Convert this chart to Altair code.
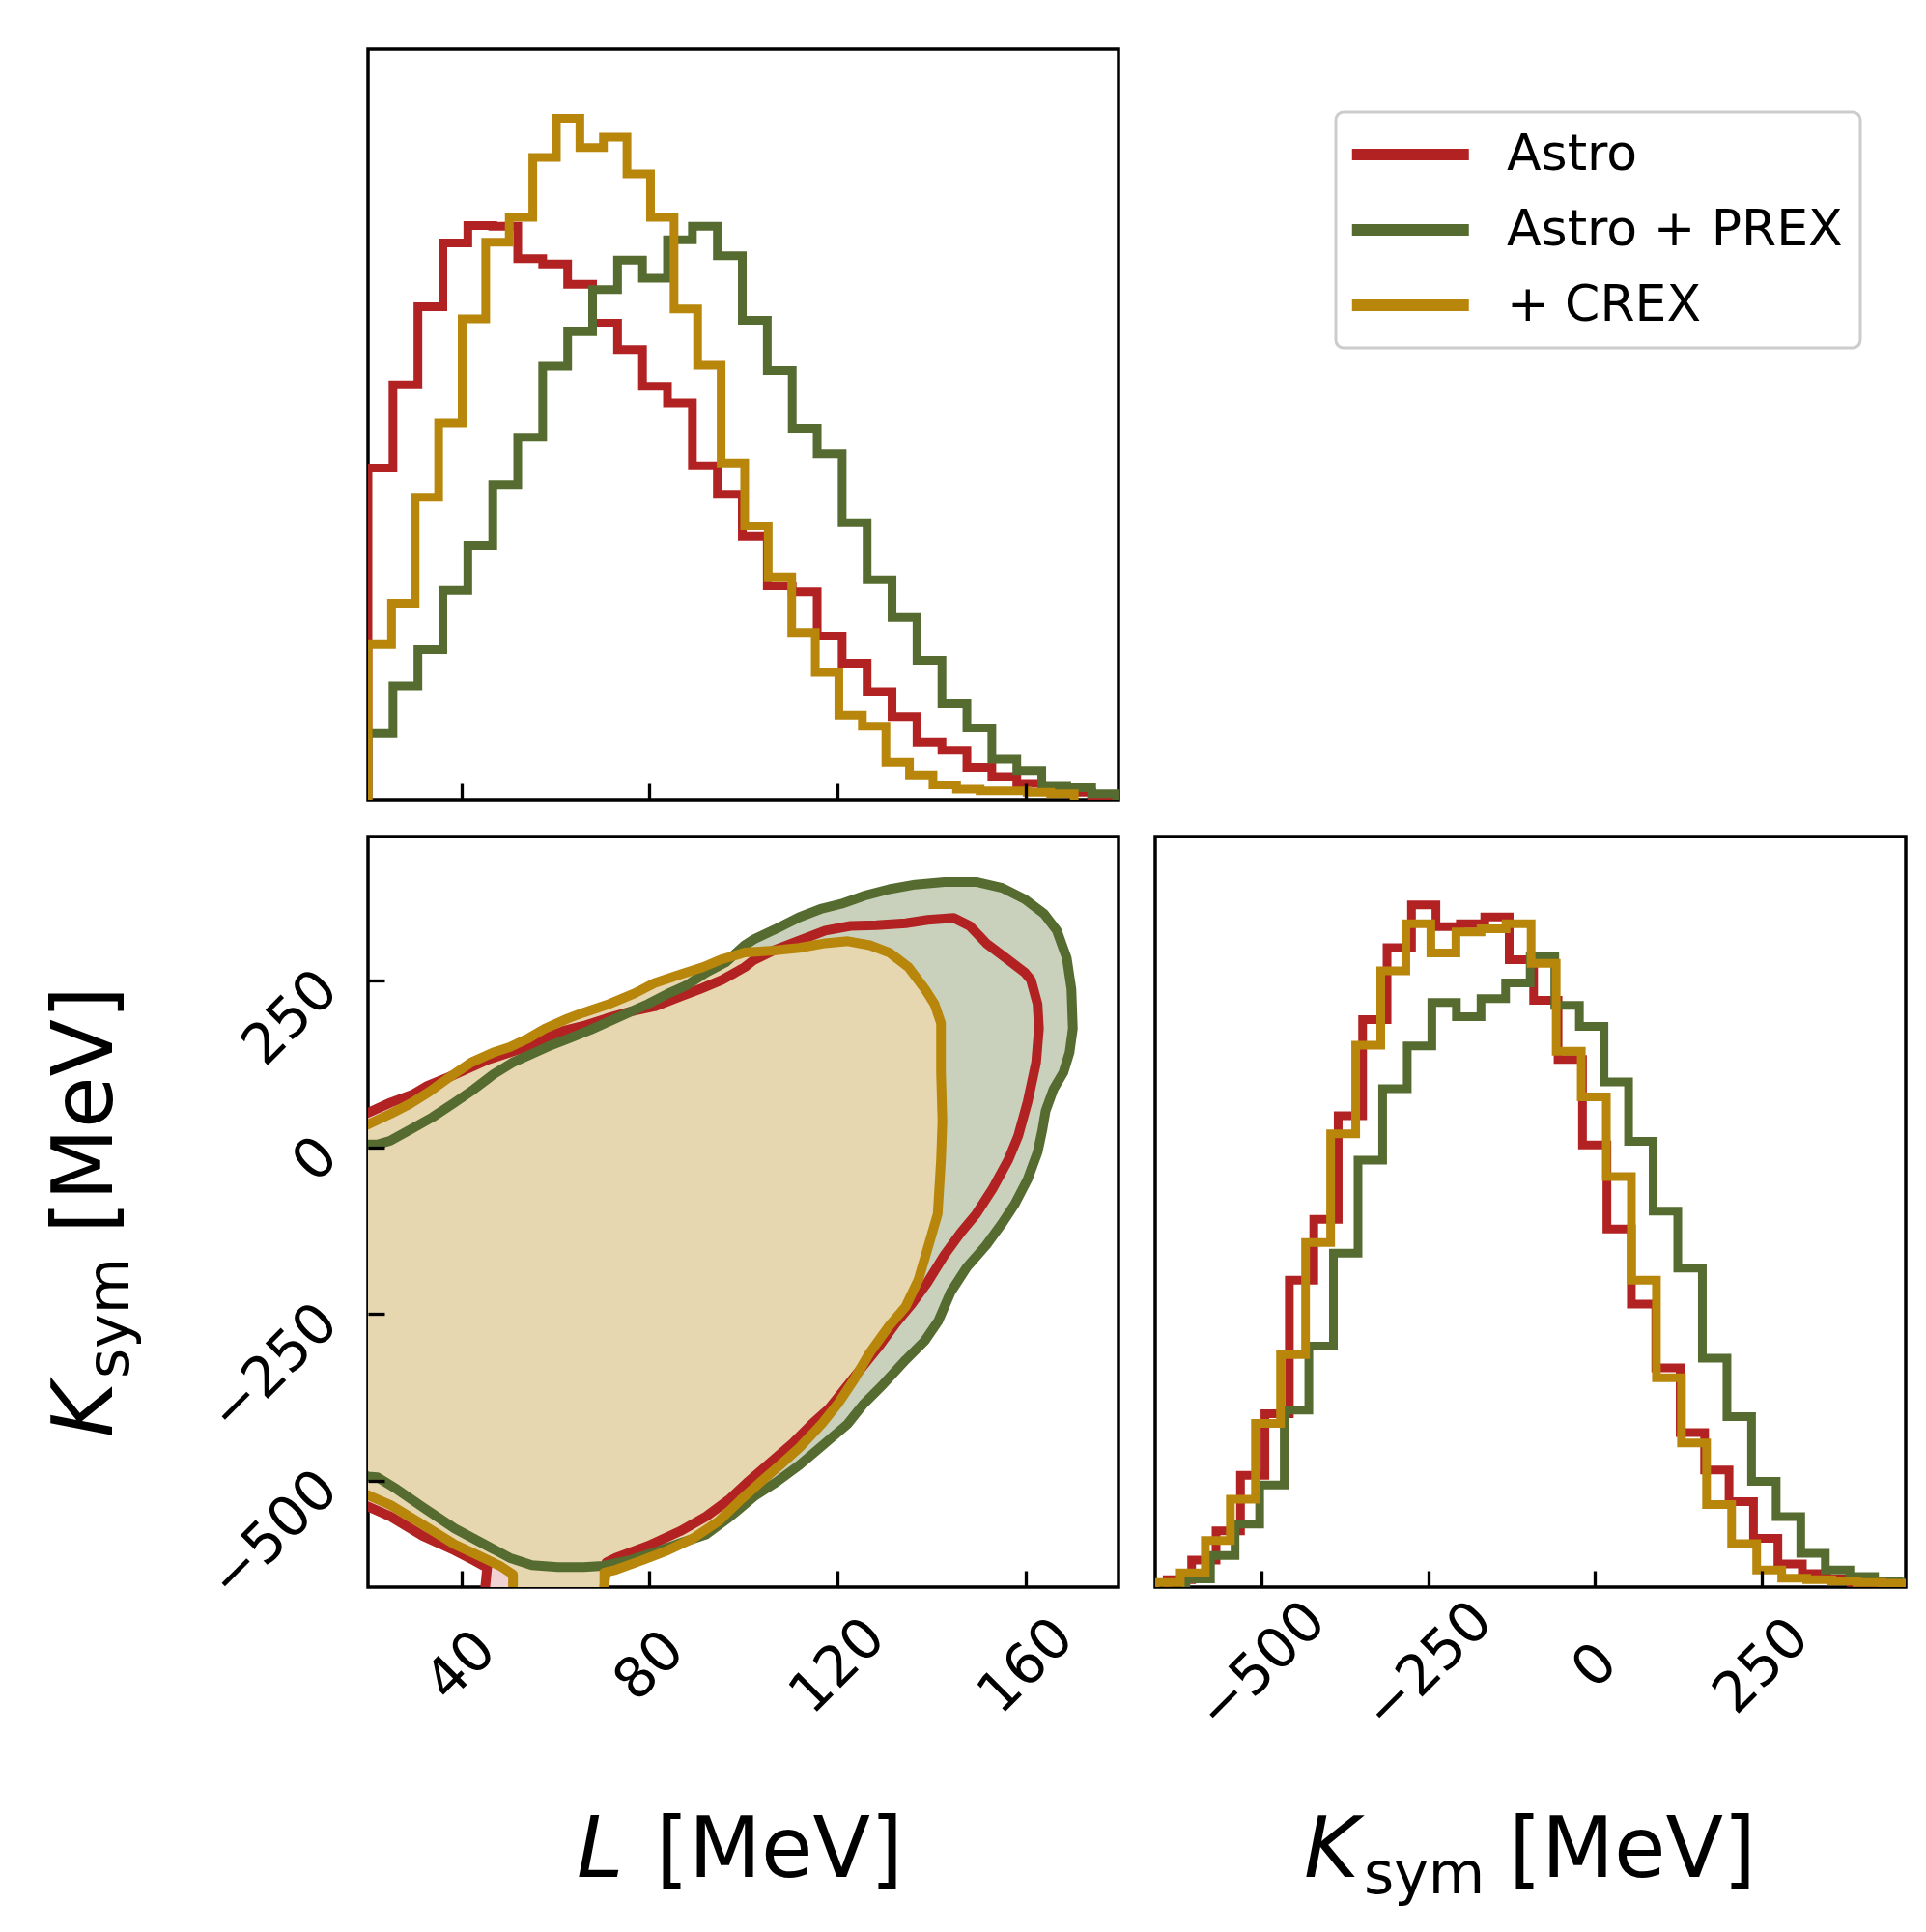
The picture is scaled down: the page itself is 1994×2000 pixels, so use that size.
import altair as alt
import pandas as pd

# ---------------- data ----------------
SERIES = ["Astro", "Astro + PREX", "+ CREX"]
LINE_COLORS = ["#b22222", "#556b2f", "#b8860b"]
FILL_COLORS = ["#f2d3d3", "#c9d1bc", "#e6d7b0"]

L_RANGE = [20.2, 179.6]
K_RANGE = [-660.0, 466.0]
L_TICKS = [40, 80, 120, 160]
K_TICKS = [-500, -250, 0, 250]

# marginal histogram of L (heights relative to panel height)
L_BIN_START = [20.2, 20.2, 20.2]
L_BIN_WIDTH = [5.3, 5.3, 5.0]
L_HIST_ASTRO = [0.442, 0.553, 0.657, 0.742, 0.765, 0.764, 0.721, 0.714, 0.687, 0.635,
                0.600, 0.551, 0.529, 0.445, 0.407, 0.351, 0.285, 0.277, 0.218, 0.182,
                0.144, 0.111, 0.077, 0.066, 0.043, 0.031, 0.022, 0.016, 0.010, 0.004]
L_HIST_PREX = [0.0885, 0.152, 0.200, 0.279, 0.339, 0.420, 0.483, 0.578, 0.624, 0.680,
               0.719, 0.695, 0.746, 0.764, 0.725, 0.639, 0.572, 0.495, 0.461, 0.369,
               0.293, 0.243, 0.186, 0.128, 0.096, 0.054, 0.039, 0.018, 0.016, 0.008]
L_HIST_CREX = [0.207, 0.262, 0.403, 0.502, 0.641, 0.743, 0.776, 0.856, 0.908, 0.869,
               0.883, 0.834, 0.776, 0.654, 0.579, 0.449, 0.365, 0.297, 0.223, 0.170,
               0.113, 0.098, 0.050, 0.033, 0.020, 0.014, 0.012, 0.012, 0.010, 0.008]

# marginal histogram of K_sym
K_BIN_START = [-642.0, -614.0, -660.0]
K_BIN_WIDTH = [36.65, 36.9, 37.6]
K_HIST_ASTRO = [0.010, 0.036, 0.075, 0.149, 0.231, 0.409, 0.490, 0.628, 0.756, 0.852,
                0.909, 0.880, 0.884, 0.893, 0.836, 0.782, 0.703, 0.589, 0.477, 0.377,
                0.292, 0.206, 0.156, 0.114, 0.065, 0.031, 0.018, 0.011, 0.006, 0.003]
K_HIST_PREX = [0.011, 0.042, 0.084, 0.136, 0.236, 0.321, 0.445, 0.569, 0.664, 0.721,
               0.779, 0.760, 0.784, 0.805, 0.840, 0.775, 0.747, 0.673, 0.594, 0.501,
               0.425, 0.305, 0.227, 0.141, 0.094, 0.045, 0.023, 0.014, 0.008, 0.005]
K_HIST_CREX = [0.006, 0.019, 0.062, 0.117, 0.218, 0.310, 0.459, 0.604, 0.722, 0.821,
               0.884, 0.845, 0.873, 0.877, 0.884, 0.831, 0.714, 0.653, 0.547, 0.409,
               0.279, 0.192, 0.110, 0.058, 0.023, 0.012, 0.010, 0.008, 0.006, 0.005]

# credible-region contours in the (L, K_sym) plane, as (L, K_sym) pairs
CONTOUR_ASTRO = [
    (15, 35), (20.2, 51.6), (25.0, 67), (29.7, 79), (32.8, 92), (37.3, 105), (42.1, 120),
    (45.5, 131), (50.3, 142), (53.7, 150), (57.8, 164), (61.9, 175), (66.0, 182),
    (70.8, 193), (76.2, 204), (81.0, 211), (86.5, 226), (90.6, 237), (95.4, 251),
    (100.2, 270), (102.2, 281), (106.3, 295), (111.8, 310), (117.3, 325), (122.7, 332),
    (128.2, 333), (134.4, 336), (139.1, 341), (144.6, 344), (148.0, 332), (151.5, 306),
    (155.6, 284), (159.7, 262), (161.0, 251), (162.4, 215), (162.7, 178), (162.1, 127),
    (160.3, 68), (158.3, 17), (156.2, -19), (152.8, -63), (149.4, -100), (146.0, -129),
    (142.6, -162), (139.1, -202), (135.7, -235), (132.3, -264), (128.9, -297),
    (125.5, -327), (121.4, -363), (118.0, -393), (114.5, -415), (110.4, -444),
    (105.0, -477), (100.9, -502), (96.8, -529), (92.0, -554), (86.5, -576),
    (79.7, -598), (72.8, -616), (70.8, -623), (70.4, -660), (70.2, -700), (45.0, -700),
    (45.1, -660), (45.5, -631), (42.7, -620), (38.6, -605), (31.8, -583), (25.0, -554),
    (20.2, -539), (15, -527),
]
CONTOUR_PREX = [
    (15, -5), (20.2, 4), (22.2, 4), (25.0, 10), (29.1, 26), (33.9, 45), (38.6, 67),
    (42.7, 87), (46.8, 109), (50.9, 127), (55.0, 140), (59.1, 153), (63.2, 164),
    (67.4, 176), (71.5, 189), (75.6, 202), (79.7, 215), (83.8, 230), (87.9, 243),
    (92.0, 262), (96.1, 277), (100.2, 303), (102.2, 312), (107.0, 328), (111.8, 345),
    (116.6, 358), (120.7, 365), (125.5, 377), (130.9, 387), (136.4, 394), (142.6, 398),
    (149.4, 398), (154.9, 389), (159.7, 372), (163.8, 350), (166.5, 325), (168.6, 284),
    (169.6, 237), (169.9, 178), (169.2, 142), (167.9, 112), (165.8, 87), (164.1, 54),
    (163.4, 25), (162.4, -8), (160.3, -48), (157.6, -85), (154.9, -114), (151.5, -147),
    (147.4, -180), (144.0, -217), (141.3, -261), (138.5, -290), (134.4, -319),
    (129.6, -356), (125.5, -385), (122.1, -415), (117.3, -444), (111.8, -477),
    (107.0, -502), (102.2, -524), (96.8, -556), (92.0, -581), (86.5, -594),
    (81.0, -608), (75.6, -620), (70.1, -628), (66.0, -630), (60.5, -630), (55.0, -627),
    (50.3, -616), (45.5, -598), (38.6, -572), (31.8, -540), (26.3, -513), (22.2, -495),
    (20.2, -494), (15, -480),
]
CONTOUR_CREX = [
    (15, 20), (20.2, 34), (25.0, 50), (29.1, 65), (33.2, 83), (37.3, 104), (42.1, 127),
    (46.8, 142), (50.3, 150), (54.4, 164), (57.8, 178), (62.6, 193), (66.0, 202),
    (71.5, 215), (76.9, 231), (81.0, 246), (86.5, 259), (91.3, 270), (95.4, 282),
    (100.2, 292), (106.3, 295), (111.8, 299), (117.3, 306), (122.1, 309), (126.8, 303),
    (130.9, 292), (135.0, 270), (138.5, 237), (140.5, 215), (141.9, 186), (141.9, 112),
    (142.2, 39), (141.9, -19), (141.2, -100), (139.1, -151), (137.1, -199), (134.4, -239),
    (130.9, -268), (126.8, -308), (123.4, -349), (120.0, -385), (116.6, -415),
    (111.8, -451), (107.7, -477), (103.6, -502), (99.5, -528), (94.7, -561), (89.2, -587),
    (83.8, -605), (78.3, -620), (72.8, -634), (70.4, -638), (70.4, -660), (70.4, -700),
    (51.0, -700), (51.0, -660), (51.0, -641), (48.2, -628), (44.1, -614), (38.6, -596),
    (31.8, -566), (25.0, -537), (20.2, -522), (15, -510),
]

# ---------------- tables ----------------
def step_table(series, start, width, heights):
    xs, ys = [start], [0.0]
    for k, h in enumerate(heights):
        xs += [start + k * width, start + (k + 1) * width]
        ys += [h, h]
    xs.append(start + len(heights) * width)
    ys.append(0.0)
    return pd.DataFrame({"series": series, "x": xs, "y": ys, "i": list(range(len(xs)))})


l_hist = pd.concat([
    step_table(s, a, w, h) for s, a, w, h in
    zip(SERIES, L_BIN_START, L_BIN_WIDTH, [L_HIST_ASTRO, L_HIST_PREX, L_HIST_CREX])
])
k_hist = pd.concat([
    step_table(s, a, w, h) for s, a, w, h in
    zip(SERIES, K_BIN_START, K_BIN_WIDTH, [K_HIST_ASTRO, K_HIST_PREX, K_HIST_CREX])
])
contours = pd.concat([
    pd.DataFrame({"series": s, "L": [p[0] for p in pts], "K": [p[1] for p in pts],
                  "i": list(range(len(pts)))})
    for s, pts in zip(SERIES, [CONTOUR_ASTRO, CONTOUR_PREX, CONTOUR_CREX])
])
one = pd.DataFrame({"v": [0]})

# ---------------- styling ----------------
FONT = "DejaVu Sans"
W = 777
H = 777
TICK = 17

color_scale = alt.Scale(domain=SERIES, range=LINE_COLORS)
# a long horizontal stroke as legend swatch (path units scaled by sqrt(size)/2)
LEGEND = alt.Legend(
    orient="none", legendX=1002, legendY=65, title=None,
    symbolType="M-1.8,0H6.2", symbolSize=915, symbolStrokeWidth=12,
    labelFontSize=52, labelFont=FONT, labelColor="black", labelOffset=107,
    labelLimit=0, labelExpr="datum.label + '\u00a0'",
    padding=18, rowPadding=26, cornerRadius=8,
    strokeColor="#cccccc", fillColor="white",
)


def tick_axis(values, labels, orient_y=False):
    kw = dict(values=values, title=None, domain=False, grid=False,
              ticks=True, tickSize=TICK, tickWidth=3.3, tickColor="black",
              offset=-TICK, zindex=1)
    if not labels:
        kw["labels"] = False
        return alt.Axis(**kw)
    kw.update(format="d", labelAngle=315, labelFont=FONT, labelFontSize=58,
              labelColor="black", labelOverlap=False, labelLimit=0, labelFlush=False,
              labelBaseline="middle")
    if orient_y:
        kw.update(labelAlign="right", labelPadding=41)
    else:
        kw.update(labelAlign="center", labelPadding=82)
    return alt.Axis(**kw)


def hist_panel(df, xrange, ticks, labels):
    layers = []
    for s in SERIES:
        layers.append(
            alt.Chart(df).transform_filter(alt.datum.series == s)
            .mark_line(strokeWidth=9, clip=True, strokeJoin="miter", strokeCap="butt")
            .encode(
                x=alt.X("x:Q", scale=alt.Scale(domain=xrange, nice=False, zero=False),
                        axis=tick_axis(ticks, labels)),
                y=alt.Y("y:Q", scale=alt.Scale(domain=[0, 1], nice=False, zero=False),
                        axis=None),
                color=alt.Color("series:N", scale=color_scale, legend=LEGEND),
                order=alt.Order("i:Q"),
            )
        )
    return layers


def text_piece(text, x, y, size, italic=False, angle=0):
    kw = dict(text=text, font=FONT, fontSize=size, align="left", baseline="alphabetic",
              color="black")
    if italic:
        kw["fontStyle"] = "italic"
    if angle:
        kw["angle"] = angle
    return alt.Chart(one).mark_text(**kw).encode(x=alt.value(x), y=alt.value(y))


# top: L histogram
top = alt.layer(*hist_panel(l_hist, L_RANGE, L_TICKS, False)).properties(width=W, height=H)

# bottom-left: 2D contours
lx = alt.X("L:Q", scale=alt.Scale(domain=L_RANGE, nice=False, zero=False),
           axis=tick_axis(L_TICKS, True))
ky = alt.Y("K:Q", scale=alt.Scale(domain=K_RANGE, nice=False, zero=False),
           axis=tick_axis(K_TICKS, True, orient_y=True))
fills = [
    alt.Chart(contours).transform_filter(alt.datum.series == s)
    .mark_line(fill=fc, strokeWidth=0, strokeOpacity=0, clip=True)
    .encode(x=lx, y=ky, order=alt.Order("i:Q"))
    for s, fc in zip(SERIES, FILL_COLORS)
]
strokes = [
    alt.Chart(contours).transform_filter(alt.datum.series == s)
    .mark_line(strokeWidth=10, clip=True, strokeJoin="round")
    .encode(x=lx, y=ky, order=alt.Order("i:Q"),
            color=alt.Color("series:N", scale=color_scale, legend=LEGEND))
    for s in SERIES
]
titles_2d = [
    text_piece("L", 216, H + 300, 87, italic=True),
    text_piece("[MeV]", 298, H + 300, 87),
    text_piece("K", -265, 622, 87, italic=True, angle=270),
    text_piece("sym", -248, 561, 60, angle=270),
    text_piece("[MeV]", -265, 411, 87, angle=270),
]
mid = alt.layer(*fills, *strokes, *titles_2d).properties(width=W, height=H)

# bottom-right: K_sym histogram
titles_k = [
    text_piece("K", 154, H + 300, 87, italic=True),
    text_piece("sym", 216, H + 317, 60),
    text_piece("[MeV]", 366, H + 300, 87),
]
right = alt.layer(*hist_panel(k_hist, K_RANGE, K_TICKS, True), *titles_k).properties(
    width=W, height=H)

bottom = alt.hconcat(mid, right, spacing=38, bounds="flush")

chart = (
    alt.vconcat(top, bottom, spacing=38, bounds="flush")
    .properties(padding={"left": 44, "top": 49, "right": 10, "bottom": 10},
                background="white")
    .configure(font=FONT)
    .configure_view(stroke="black", strokeWidth=3.5)
)

try:
    trial = chart.configure_legend(strokeWidth=3)
    trial.to_dict()
    chart = trial
except Exception:
    pass

chart.save("out.html", embed_options={"renderer": "svg", "actions": False})
